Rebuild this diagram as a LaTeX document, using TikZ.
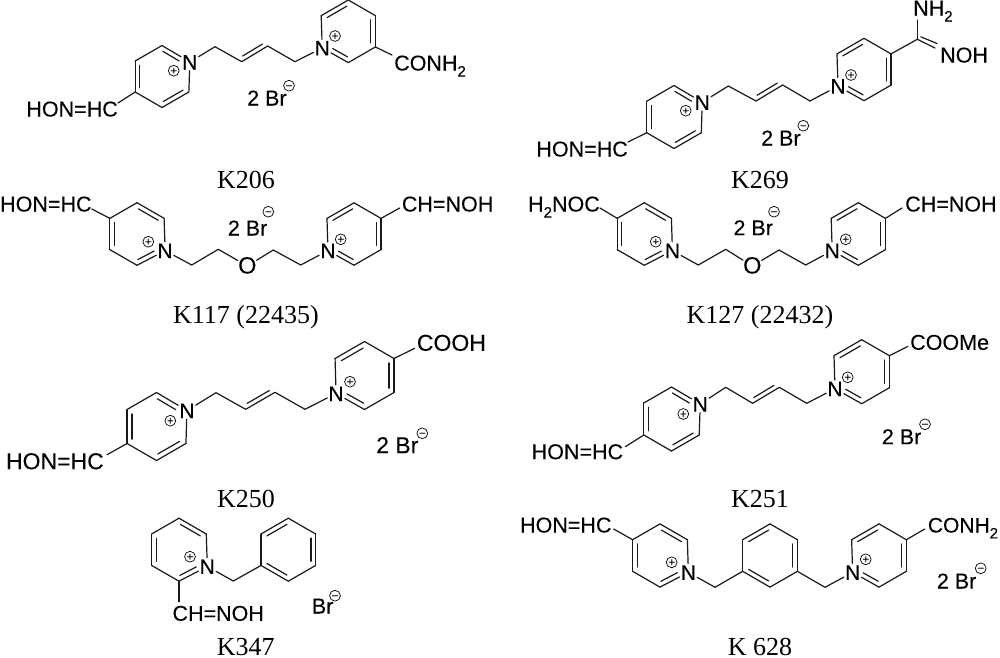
\documentclass[tikz,border=0pt]{standalone}
\usepackage{fontspec}
\setmainfont{Liberation Sans}[FakeBold=0.15]
\newfontfamily\capfont{Liberation Serif}
\usetikzlibrary{calc}
\tikzset{
  bond/.style={line width=1.2pt,line join=round,line cap=round,black!90},
  atom/.style={font=\fontsize{21}{21}\selectfont,inner sep=1pt,text height=15pt,text depth=0pt},
  chem/.style={font=\fontsize{#1}{#1}\selectfont,inner sep=0pt,text height=15pt,text depth=0pt},
  chem/.default=21.5,
  chargemark/.style={circle,draw,line width=.7pt,minimum size=10.8pt,inner sep=0pt,
    font=\fontsize{11.5}{11.5}\selectfont,text height=7.6pt,text depth=0pt},
  caption/.style={font=\capfont\fontsize{26}{26}\selectfont,anchor=base,inner sep=0pt},
}
\newcommand\lowtwo{\raisebox{-.28em}{\fontsize{15}{15}\selectfont 2}}
% ring: prefix, cx, cy, R, index of N (0 = none), inner double bonds
\newcommand\hexring[6]{%
  \coordinate (#1c) at (#2,#3);
  \foreach \i/\a in {1/-90,2/-150,3/150,4/90,5/30,6/-30}{%
    \ifnum\i=#5\relax
      \node[atom] (#1\i) at ($(#1c)+(\a:#4)+(1,1)$) {N};
    \else
      \coordinate (#1\i) at ($(#1c)+(\a:#4)$);
    \fi}
  \foreach \p/\q in {1/2,2/3,3/4,4/5,5/6,6/1}{\draw[bond] (#1\p) -- (#1\q);}
  \foreach \p/\q in {#6}{%
    \ifnum\q=#5\relax
      \draw[bond,shorten <=1pt,shorten >=7pt] ($(#1\p)!.17!(#1c)$) -- ($(#1\q)!.17!(#1c)$);
    \else
      \draw[bond,shorten <=1.5pt,shorten >=1.5pt] ($(#1\p)!.17!(#1c)$) -- ($(#1\q)!.17!(#1c)$);
    \fi}
}
% inner line of a chain C=C
\newcommand\chaindbl[2]{\draw[bond] ($(#1)!.12!(#2)+(-2.2,-3.8)$) -- ($(#1)!.88!(#2)+(-2.2,-3.8)$);}
\begin{document}
\begin{tikzpicture}[x=1pt,y=-1pt]
\useasboundingbox (0,0) rectangle (1000,657);

%% K206
\hexring{a}{162}{76.5}{31}{6}{1/6,2/3,4/5}
\hexring{b}{348.3}{31.3}{31.3}{3}{1/2,6/5,4/3}
\coordinate (a1c) at (215,46.7); \coordinate (a2c) at (241.7,61.7);
\coordinate (a3c) at (267.7,46); \coordinate (a4c) at (295,61.7);
\draw[bond] (a6) -- (a1c) -- (a2c) -- (a3c) -- (a4c) -- (b3);
\chaindbl{a2c}{a3c}
\node[chem,anchor=east] (ahon) at (118,109) {HON=HC};
\draw[bond] (a3) -- ($(ahon.east)+(0,-6)$);
\node[chem,anchor=west] (bcon) at (394,63) {CONH\lowtwo};
\draw[bond] (b5) -- ($(bcon.west)+(-2,-8)$);
\node[chargemark] (ap) at (173.7,70.7) {+};
\node[chargemark] (bp) at (335,36) {+};
\node[chem,anchor=west] (abr) at (247,98) {2 Br};
\node[chargemark] (am) at (289,85.7) {−};
\node[caption] (acap) at (246,188.5) {K206};

%% K269
\hexring{c}{674}{117}{31.5}{6}{1/6,2/3,4/5}
\hexring{d}{864}{69.5}{31.2}{3}{1/2,6/5,4/3}
\coordinate (c1c) at (728.3,86); \coordinate (c2c) at (756,101);
\coordinate (c3c) at (782.7,85); \coordinate (c4c) at (810,101);
\draw[bond] (c6) -- (c1c) -- (c2c) -- (c3c) -- (c4c) -- (d3);
\chaindbl{c2c}{c3c}
\node[chem,anchor=east] (chon) at (628,149) {HON=HC};
\draw[bond] (c3) -- ($(chon.east)+(0,-7)$);
\coordinate (amid) at (917.3,39.3);
\draw[bond] (d6) -- (amid);
\node[chem,anchor=west] (dnh) at (913,8) {NH\lowtwo};
\node[chem,anchor=west] (dnoh) at (940,55) {NOH};
\draw[bond] (amid) -- ($(dnh.west)+(4.3,12)$);
\draw[bond] (amid) -- ($(dnoh.west)+(-5,-7)$);
\draw[bond] ($(amid)+(3.5,-2.5)$) -- ($(dnoh.west)+(-3,-11.5)$);
\node[chargemark] (cp) at (685.7,110.7) {+};
\node[chargemark] (dp) at (851,75) {+};
\node[chem,anchor=west] (cbr) at (761,138) {2 Br};
\node[chargemark] (cm) at (803.3,125.7) {−};
\node[caption] (ccap) at (760,188) {K269};

%% K117
\hexring{e}{137}{234}{31.3}{5}{1/6,2/3,4/5}
\hexring{f}{354}{234}{31.2}{3}{1/2,6/5,4/3}
\coordinate (e1c) at (191.7,265); \coordinate (e2c) at (218.3,249.3);
\node[chem=23.5] (eo) at (247.3,266) {O};
\coordinate (e3c) at (273.3,250); \coordinate (e4c) at (300.7,265);
\draw[bond] (e5) -- (e1c) -- (e2c) -- (eo) -- (e3c) -- (e4c) -- (f3);
\node[chem,anchor=west] (ehon) at (0,204) {HON=HC};
\draw[bond] (e2) -- ($(ehon.east)+(0,5)$);
\node[chem,anchor=west] (fch) at (401.7,204) {CH=NOH};
\draw[bond] (f6) -- ($(fch.west)+(-2,4)$);
\node[chargemark] (ep) at (148.3,241.7) {+};
\node[chargemark] (fp) at (340.7,239.3) {+};
\node[chem,anchor=west] (ebr) at (227.7,228) {2 Br};
\node[chargemark] (em) at (268.3,211.7) {−};
\node[caption] (ecap) at (246,323) {K117 (22435)};

%% K127
\hexring{g}{644.3}{234}{31.3}{5}{1/6,2/3,4/5}
\hexring{h}{858.3}{234}{31.3}{3}{1/2,6/5,4/3}
\coordinate (g1c) at (698.3,265); \coordinate (g2c) at (725.7,249.3);
\node[chem=23.5] (go) at (752.3,266) {O};
\coordinate (g3c) at (779,250); \coordinate (g4c) at (805.7,265);
\draw[bond] (g5) -- (g1c) -- (g2c) -- (go) -- (g3c) -- (g4c) -- (h3);
\node[chem,anchor=east] (gcon) at (600,204) {H\lowtwo NOC};
\draw[bond] (g2) -- ($(gcon.east)+(0,4)$);
\node[chem,anchor=west] (hch) at (905,204) {CH=NOH};
\draw[bond] (h6) -- ($(hch.west)+(-3,4)$);
\node[chargemark] (gp) at (655.7,241.7) {+};
\node[chargemark] (hp) at (845.7,239.3) {+};
\node[chem,anchor=west] (gbr) at (733.3,227.7) {2 Br};
\node[chargemark] (gm) at (774,211.7) {−};
\node[caption] (gcap) at (760,323) {K127 (22432)};

%% K250
\hexring{i}{156.5}{426.5}{34}{6}{1/6,2/3,4/5}
\hexring{j}{364.5}{375.5}{34}{3}{1/2,6/5,4/3}
\coordinate (i1c) at (216,392.7); \coordinate (i2c) at (245.7,409.3);
\coordinate (i3c) at (275,392.3); \coordinate (i4c) at (305,409.3);
\draw[bond] (i6) -- (i1c) -- (i2c) -- (i3c) -- (i4c) -- (j3);
\chaindbl{i2c}{i3c}
\node[chem=23,anchor=east] (ihon) at (104,461.7) {HON=HC};
\draw[bond] (i3) -- ($(ihon.east)+(3,-7)$);
\node[chem=23,anchor=west] (jco) at (416.7,343.3) {COOH};
\draw[bond] (j6) -- ($(jco.west)+(-2,5)$);
\node[chargemark] (ip) at (170.3,420.7) {+};
\node[chargemark] (jp) at (350,381.7) {+};
\node[chem=23,anchor=west] (ibr) at (376,445.7) {2 Br};
\node[chargemark] (im) at (422.3,433.3) {−};
\node[caption] (icap) at (246,507) {K250};

%% K251
\hexring{k}{671.5}{419}{32}{6}{1/6,2/3,4/5}
\hexring{l}{861.7}{371.7}{32}{3}{1/2,6/5,4/3}
\coordinate (k1c) at (725.7,387.3); \coordinate (k2c) at (752.7,403.3);
\coordinate (k3c) at (779.3,387.3); \coordinate (k4c) at (806.7,403.3);
\draw[bond] (k6) -- (k1c) -- (k2c) -- (k3c) -- (k4c) -- (l3);
\chaindbl{k2c}{k3c}
\node[chem,anchor=east] (khon) at (623.3,451.7) {HON=HC};
\draw[bond] (k3) -- ($(khon.east)+(2,-5)$);
\node[chem,anchor=west] (lco) at (910,342.3) {COOMe};
\draw[bond] (l6) -- ($(lco.west)+(-2,4)$);
\node[chargemark] (kp) at (683.3,414) {+};
\node[chargemark] (lp) at (847.7,377.3) {+};
\node[chem,anchor=west] (kbr) at (881.7,436.7) {2 Br};
\node[chargemark] (km) at (925,424.3) {−};
\node[caption] (kcap) at (760,507) {K251};

%% K347
\hexring{m}{179}{549.7}{31.5}{5}{1/6,2/3,4/5}
\hexring{n}{288.3}{549.7}{31.5}{0}{1/2,6/5,3/4}
\coordinate (mch) at (233.3,581);
\draw[bond] (m5) -- (mch) -- (n3);
\node[chem=21.5,anchor=west] (moh) at (172.3,613.3) {CH=NOH};
\draw[bond] (m4) -- ($(moh.west)+(6.7,-11.6)$);
\node[chargemark] (mp) at (190,556.7) {+};
\node[chem,anchor=west] (mbr) at (311.7,606) {Br};
\node[chargemark] (mm) at (335,595.7) {−};
\node[caption] (mcap) at (245.8,655) {K347};

%% K 628
\hexring{o}{660}{555.5}{31.6}{5}{1/6,2/3,4/5}
\hexring{p}{770}{555.5}{31.6}{0}{1/2,6/5,3/4}
\hexring{q}{879}{555.5}{31.6}{3}{1/2,6/5,4/3}
\coordinate (och) at (715,587.3); \coordinate (pch) at (825,587.3);
\draw[bond] (o5) -- (och) -- (p3);
\draw[bond] (p5) -- (pch) -- (q3);
\node[chem=21.5,anchor=east] (ohon) at (611.7,525) {HON=HC};
\draw[bond] (o2) -- ($(ohon.east)+(2,4)$);
\node[chem=21,anchor=west] (qco) at (927.7,525) {CONH\lowtwo};
\draw[bond] (q6) -- ($(qco.west)+(-3,4)$);
\node[chargemark] (op) at (671.7,562.3) {+};
\node[chargemark] (qp) at (865.7,559.3) {+};
\node[chem,anchor=west] (obr) at (936.7,581) {2 Br};
\node[chargemark] (om) at (980.7,568.3) {−};
\node[caption] (ocap) at (760,655) {K 628};
\end{tikzpicture}
\end{document}
